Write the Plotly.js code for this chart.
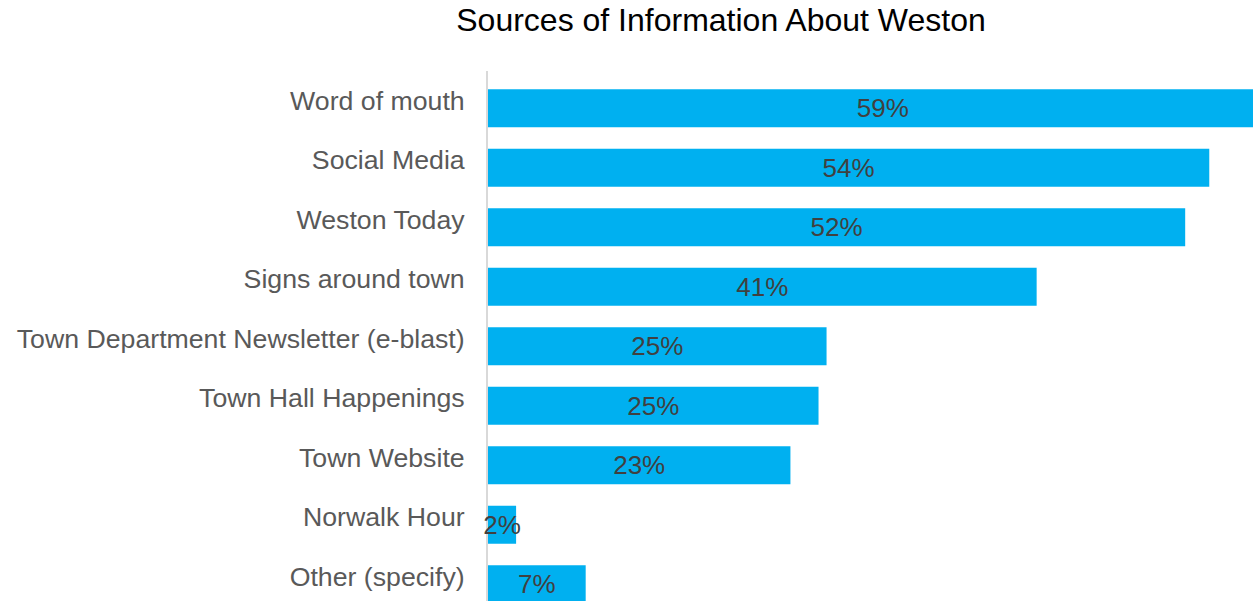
<!DOCTYPE html>
<html>
<head>
<meta charset="utf-8">
<script src="https://cdn.plot.ly/plotly-3.0.1.min.js"></script>
<style>
html, body { margin: 0; padding: 0; overflow: hidden; background: #fff; }
#chart { width: 1300px; height: 620px; }
</style>
</head>
<body>
<div id="chart"></div>
<script>
// Categories listed bottom-to-top
const categories = [
  "Other (specify)",
  "Norwalk Hour",
  "Town Website",
  "Town Hall Happenings",
  "Town Department Newsletter (e-blast)",
  "Signs around town",
  "Weston Today",
  "Social Media",
  "Word of mouth"
];
const values = [7.3, 2.1, 22.6, 24.7, 25.3, 41.0, 52.1, 53.9, 59.0];
const valueLabels = ["7%", "2%", "23%", "25%", "25%", "41%", "52%", "54%", "59%"];
const chartTitle = "Sources of Information About Weston";

const trace = {
  type: "bar",
  orientation: "h",
  y: categories,
  x: values,
  text: valueLabels,
  textposition: "inside",
  insidetextanchor: "middle",
  constraintext: "none",
  textangle: 0,
  cliponaxis: false,
  textfont: { family: "Liberation Sans, Arial, sans-serif", size: 26, color: "#404040" },
  marker: { color: "#00B0F0", line: { width: 0 } },
  hoverinfo: "none"
};

const layout = {
  width: 1300,
  height: 620,
  margin: { l: 488, r: 0, t: 71, b: 6 },
  paper_bgcolor: "#ffffff",
  plot_bgcolor: "#ffffff",
  showlegend: false,
  bargap: 0.36,
  font: { family: "Liberation Sans, Arial, sans-serif" },
  title: {
    text: chartTitle,
    font: { family: "Liberation Sans, Arial, sans-serif", size: 32, color: "#000000" },
    x: 721 / 1300,
    xref: "container",
    xanchor: "center",
    y: 1 - 20 / 620,
    yref: "container",
    yanchor: "middle"
  },
  xaxis: {
    range: [0, 60.68],
    showgrid: false,
    zeroline: false,
    showline: false,
    showticklabels: false,
    ticks: "",
    fixedrange: true
  },
  yaxis: {
    type: "category",
    range: [-0.5, 8.625],
    showgrid: false,
    zeroline: false,
    showline: true,
    linecolor: "#D9D9D9",
    linewidth: 2,
    layer: "below traces",
    ticks: "",
    ticklabelstandoff: 16,
    ticklabelshift: -8,
    tickfont: { family: "Liberation Sans, Arial, sans-serif", size: 26.7, color: "#595959" },
    fixedrange: true
  }
};

Plotly.newPlot("chart", [trace], layout, { displayModeBar: false, staticPlot: true });
</script>
</body>
</html>
